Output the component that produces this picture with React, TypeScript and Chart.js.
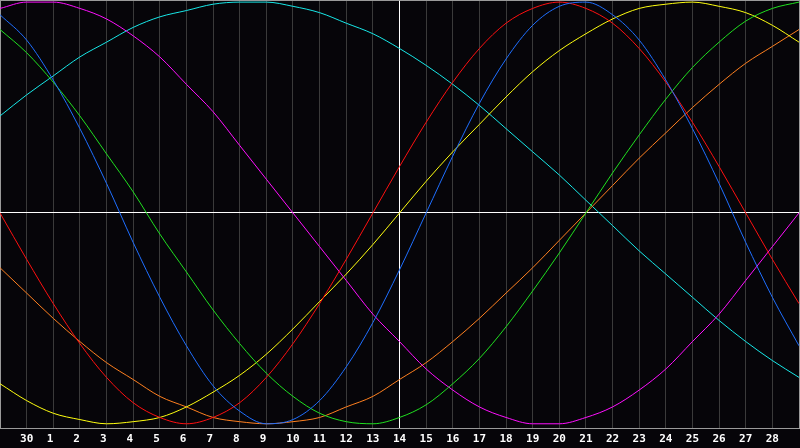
import React, { useEffect, useRef } from "react";
import { Chart, registerables } from "chart.js";

Chart.register(...registerables);

const dayLabels = ["", "30", "1", "2", "3", "4", "5", "6", "7", "8", "9", "10", "11", "12", "13", "14", "15", "16", "17", "18", "19", "20", "21", "22", "23", "24", "25", "26", "27", "28", ""];

const redValues = [0, -22, -43, -62, -78, -90, -97, -100, -97, -90, -78, -62, -43, -22, 0, 22, 43, 62, 78, 90, 97, 100, 97, 90, 78, 62, 43, 22, 0, -22, -43];
const blueValues = [94, 82, 63, 40, 14, -14, -40, -63, -82, -94, -100, -98, -89, -73, -52, -27, 0, 27, 52, 73, 89, 98, 100, 94, 82, 63, 40, 14, -14, -40, -63];
const greenValues = [87, 76, 62, 46, 28, 10, -10, -28, -46, -62, -76, -87, -95, -99, -100, -97, -91, -81, -69, -54, -37, -19, 0, 19, 37, 54, 69, 81, 91, 97, 100];
const magentaValues = [97, 100, 100, 97, 92, 84, 74, 61, 48, 32, 16, 0, -16, -32, -48, -61, -74, -84, -92, -97, -100, -100, -97, -92, -84, -74, -61, -48, -32, -16, 0];
const yellowValues = [-81, -89, -95, -98, -100, -99, -97, -92, -85, -77, -67, -55, -42, -29, -15, 0, 15, 29, 42, 55, 67, 77, 85, 92, 97, 99, 100, 98, 95, 89, 81];
const orangeValues = [-26, -38, -50, -61, -71, -79, -87, -92, -97, -99, -100, -99, -97, -92, -87, -79, -71, -61, -50, -38, -26, -13, 0, 13, 26, 38, 50, 61, 71, 79, 87];
const cyanValues = [46, 56, 65, 74, 81, 88, 93, 96, 99, 100, 100, 98, 95, 90, 85, 78, 70, 61, 51, 40, 29, 18, 6, -6, -18, -29, -40, -51, -61, -70, -78];

const seriesList = [
  { name: "physical", values: blueValues, color: "#1f6fff" },
  { name: "emotional", values: redValues, color: "#ff1010" },
  { name: "intellectual", values: greenValues, color: "#20e020" },
  { name: "intuitive", values: magentaValues, color: "#ff10ff" },
  { name: "aesthetic", values: yellowValues, color: "#ffff10" },
  { name: "awareness", values: orangeValues, color: "#ff8020" },
  { name: "spiritual", values: cyanValues, color: "#18e8e8" },
];

const TODAY_INDEX = 15;
const BG = "#060509";
const FRAME = "#9a9a9a";
const GRID = "#3a3a3a";
const AXIS_HEIGHT = 20;

const bgPlugin = {
  id: "bgFill",
  beforeDraw(chart: any) {
    const ctx = chart.ctx;
    ctx.save();
    ctx.fillStyle = BG;
    ctx.fillRect(0, 0, chart.width, chart.height);
    ctx.restore();
  },
};

export default function App() {
  const ref = useRef<HTMLCanvasElement | null>(null);
  useEffect(() => {
    if (!ref.current) return;
    const chart = new Chart(ref.current, {
      type: "line",
      data: {
        labels: dayLabels,
        datasets: seriesList.map((s) => ({
          label: s.name,
          data: s.values,
          borderColor: s.color,
          borderWidth: 1,
          pointRadius: 0,
          pointHoverRadius: 0,
          pointHitRadius: 0,
          cubicInterpolationMode: "monotone",
          fill: false,
        })),
      },
      options: {
        responsive: false,
        animation: false,
        devicePixelRatio: 1,
        layout: { autoPadding: false, padding: { left: 0, right: 1, top: 0, bottom: 0 } },
        plugins: { legend: { display: false }, tooltip: { enabled: false } },
        scales: {
          x: {
            type: "category",
            offset: false,
            afterFit: (scale: any) => {
              scale.height = AXIS_HEIGHT;
              scale.paddingLeft = 0;
              scale.paddingRight = 0;
              scale.paddingTop = 0;
              scale.paddingBottom = 0;
            },
            grid: {
              drawTicks: false,
              tickLength: 0,
              color: (c: any) =>
                c.index === TODAY_INDEX ? "#ffffff" : c.index === 0 || c.index === dayLabels.length - 1 ? FRAME : GRID,
              lineWidth: 1,
            },
            border: { display: true, color: FRAME, width: 1 },
            ticks: {
              autoSkip: false,
              maxRotation: 0,
              padding: 4.5,
              color: "#ffffff",
              font: { family: "'DejaVu Sans Mono', monospace", size: 11, weight: "bold" },
              callback: (_v: any, i: number) => {
                const l = dayLabels[i];
                return l.length === 1 ? l + " " : l;
              },
            },
          },
          y: {
            min: -102,
            max: 101,
            afterBuildTicks: (scale: any) => {
              scale.ticks = [{ value: -102 }, { value: 0 }, { value: 101 }];
            },
            afterFit: (scale: any) => {
              scale.width = 0;
              scale.paddingTop = 0;
              scale.paddingBottom = 0;
            },
            grid: {
              drawTicks: false,
              tickLength: 0,
              color: (c: any) => (c.tick && c.tick.value === 0 ? "#ffffff" : FRAME),
              lineWidth: 1,
            },
            border: { display: false },
            ticks: { display: false },
          },
        },
      },
      plugins: [bgPlugin],
    } as any);
    return () => chart.destroy();
  }, []);
  return (
    <div style={{ position: "fixed", left: 0, top: 0, width: 800, height: 448, background: BG }}>
      <canvas ref={ref} width={800} height={448} style={{ display: "block" }} />
    </div>
  );
}
